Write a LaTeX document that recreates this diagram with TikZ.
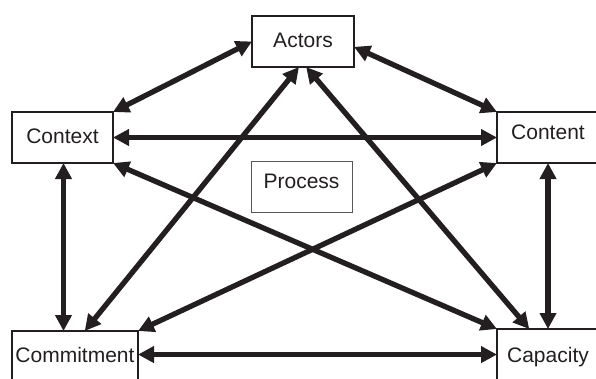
\documentclass[tikz,border=0pt]{standalone}
\usepackage{fontspec}
\setmainfont{Liberation Sans}
\usetikzlibrary{arrows.meta,calc}
\definecolor{ink}{HTML}{231F20}
\begin{document}
\begin{tikzpicture}[x=1pt,y=-1pt,
  box/.style={draw=ink, line width=2.7pt, inner sep=0pt, outer sep=0pt,
    minimum width=102pt, minimum height=51pt, text=ink,
    font=\fontsize{21}{25}\selectfont, text height=15pt},
  link/.style={draw=ink, line width=5.3pt,
    {Triangle[length=16pt,width=16pt]}-{Triangle[length=16pt,width=16pt]}}]
\useasboundingbox (0,0) rectangle (596,378);
\clip (0,0) rectangle (596,378);
\node[box, text depth=3pt] (actors) at (303,41.5) {Actors};
\node[box, text depth=4pt, minimum width=101pt] (context) at (62.5,137.5) {Context};
\node[box, text depth=11pt] (content) at (548,137.5) {Content};
\node[box, text depth=12pt, minimum width=126pt, minimum height=60pt] (commitment) at (75,361) {Commitment};
\node[box, text depth=8pt, minimum height=60pt] (capacity) at (548,359) {Capacity};
\node[box, draw=ink!75, line width=0.9pt, text depth=11pt, minimum width=101pt] (process) at (301.5,186.5) {Process};
% connectors
\draw[link] (actors.west) -- (context.north east);
\draw[link] (actors.-6) -- (content.north west);
\draw[link] (context.east) -- (content.west);
\draw[link] ($(context.south)+(1,0)$) -- ($(context.south |- commitment.north)+(1,0)$);
\draw[link] (content.south) -- (capacity.north);
\draw[link] (commitment.east |- capacity.175) -- (capacity.175);
\draw[link] (actors.-99) -- (commitment.72);
\draw[link] (actors.-83) -- (capacity.122);
\draw[link] (context.south east) -- (capacity.north west);
\draw[link] (content.south west) -- (commitment.north east);
\end{tikzpicture}
\end{document}
